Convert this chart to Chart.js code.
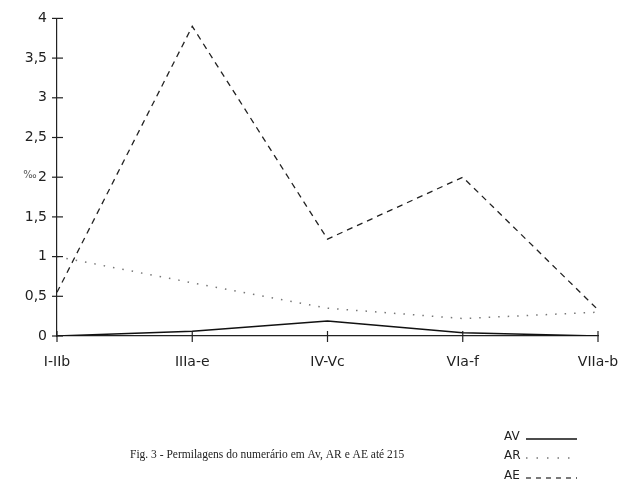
<!DOCTYPE html>
<html>
<head>
<meta charset="utf-8">
<script src="https://cdn.jsdelivr.net/npm/chart.js@4/dist/chart.umd.min.js"></script>
<style>
html,body{margin:0;padding:0;background:#fff;}
canvas{display:block;}
</style>
</head>
<body>
<canvas id="c" width="627" height="496"></canvas>
<script>
const categories = ['I-IIb', 'IIIa-e', 'IV-Vc', 'VIa-f', 'VIIa-b'];
const seriesAV = [0, 0.06, 0.19, 0.04, 0];
const seriesAR = [1.0, 0.67, 0.35, 0.22, 0.3];
const seriesAE = [0.55, 3.9, 1.22, 2.0, 0.33];
const yTickValues = [0, 0.5, 1, 1.5, 2, 2.5, 3, 3.5, 4];
const legendLabels = ['AV', 'AR', 'AE'];
const caption = 'Fig. 3 - Permilagens do numerário em Av, AR e AE até 215';
const yUnit = '‰';

const decorations = {
  id: 'decorations',
  afterDraw(chart) {
    const ctx = chart.ctx;
    const xs = chart.scales.x, ys = chart.scales.y;
    const a = chart.chartArea;
    ctx.save();
    ctx.strokeStyle = '#222';
    ctx.lineWidth = 1.2;
    yTickValues.forEach(v => {
      const py = ys.getPixelForValue(v);
      ctx.beginPath(); ctx.moveTo(a.left - 5, py); ctx.lineTo(a.left + 6, py); ctx.stroke();
    });
    categories.forEach((c, i) => {
      const px = xs.getPixelForValue(i);
      ctx.beginPath(); ctx.moveTo(px, a.bottom - 5); ctx.lineTo(px, a.bottom + 6); ctx.stroke();
    });
    ctx.fillStyle = '#555';
    ctx.font = '10px "DejaVu Sans"';
    ctx.textAlign = 'center'; ctx.textBaseline = 'middle';
    ctx.fillText(yUnit, 30, ys.getPixelForValue(2) - 2);
    ctx.fillStyle = '#222';
    ctx.font = '11.5px "Liberation Serif"';
    ctx.textAlign = 'left';
    ctx.fillText(caption, 130, 455);
    ctx.font = '12px "DejaVu Sans"';
    const rows = [437, 456, 476];
    const styles = [[], [1.5, 9], [5, 5]];
    const colors = ['#111', '#777', '#333'];
    legendLabels.forEach((t, i) => {
      ctx.fillStyle = '#222';
      ctx.textAlign = 'left';
      ctx.fillText(t, 504, rows[i]);
      ctx.beginPath();
      ctx.setLineDash(styles[i]);
      ctx.strokeStyle = colors[i];
      ctx.lineWidth = i === 0 ? 1.5 : 1.3;
      ctx.moveTo(526, rows[i] + 2); ctx.lineTo(577, rows[i] + 2);
      ctx.stroke();
    });
    ctx.restore();
  }
};

new Chart(document.getElementById('c'), {
  type: 'line',
  data: {
    labels: categories,
    datasets: [
      { label: 'AV', data: seriesAV, borderColor: '#111', borderWidth: 1.5, pointRadius: 0, tension: 0, fill: false },
      { label: 'AR', data: seriesAR, borderColor: '#777', borderWidth: 1.5, borderDash: [1.5, 8], pointRadius: 0, tension: 0, fill: false },
      { label: 'AE', data: seriesAE, borderColor: '#222', borderWidth: 1.3, borderDash: [6, 5], pointRadius: 0, tension: 0, fill: false }
    ]
  },
  options: {
    responsive: false,
    devicePixelRatio: 1,
    animation: false,
    layout: { padding: { left: 0, right: 29, top: 16, bottom: 0 } },
    plugins: { legend: { display: false }, tooltip: { enabled: false } },
    scales: {
      x: {
        offset: false,
        grid: { display: true, drawOnChartArea: false, drawTicks: false },
        border: { display: true, color: '#222', width: 1.2 },
        ticks: { padding: 18, color: '#222', font: { family: 'DejaVu Sans', size: 14 }, maxRotation: 0, autoSkip: false },
        afterFit(s) { s.height = 160; s.paddingRight = 0; s.paddingLeft = 0; }
      },
      y: {
        min: 0, max: 4,
        afterBuildTicks(s) { s.ticks = yTickValues.map(v => ({ value: v })); },
        grid: { display: true, drawOnChartArea: false, drawTicks: false },
        border: { display: true, color: '#222', width: 1.2 },
        ticks: {
          padding: 10, color: '#222', font: { family: 'DejaVu Sans', size: 14 },
          callback: v => String(v).replace('.', ',')
        },
        afterFit(s) { s.width = 57; }
      }
    }
  },
  plugins: [decorations]
});
</script>
</body>
</html>
